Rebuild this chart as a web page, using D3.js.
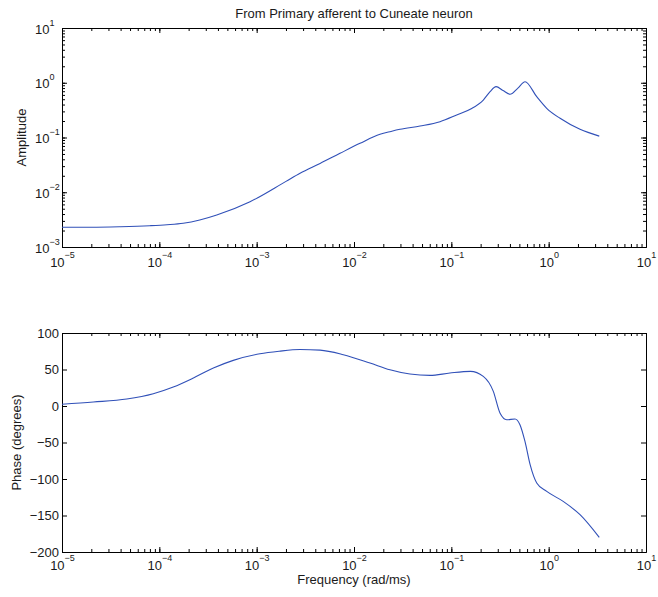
<!DOCTYPE html>
<html lang="en">
<head>
<meta charset="UTF-8">
<title>From Primary afferent to Cuneate neuron</title>
<script src="https://cdn.jsdelivr.net/npm/d3@7"></script>
<style>
  body { margin: 0; background: #fff; }
  text { font-family: "Liberation Sans", Arial, sans-serif; fill: #1a1a1a; }
  .axis path, .axis line { stroke: #000; }
</style>
</head>
<body>
<div id="chart"></div>
<script>
// Bode data (frequency in rad/ms)
const ampFreq = [1e-5, 2e-5, 4e-5, 8e-5, 1.2e-4, 1.76e-4, 2.6e-4, 3.89e-4, 8.55e-4, 2e-3, 2.79e-3, 4.48e-3, 7.18e-3, 1.153e-2, 1.85e-2, 2.4e-2, 2.97e-2, 4.77e-2, 7.66e-2, 0.1135, 0.16, 0.213, 0.25, 0.288, 0.34, 0.401, 0.48, 0.572, 0.754, 0.955, 1.31, 2.1, 3.31];
const ampValues = [0.0023, 0.0023, 0.00235, 0.00245, 0.00255, 0.00271, 0.00311, 0.00384, 0.00671, 0.0158, 0.0222, 0.0335, 0.0514, 0.0783, 0.1143, 0.129, 0.141, 0.162, 0.1945, 0.2576, 0.335, 0.484, 0.687, 0.848, 0.72, 0.615, 0.79, 1.045, 0.556, 0.341, 0.224, 0.141, 0.106];

const phaseFreq = [1e-5, 2.1e-5, 4.63e-5, 8.67e-5, 1.39e-4, 2.24e-4, 3.59e-4, 5.75e-4, 1.08e-3, 1.7e-3, 2.79e-3, 4.48e-3, 7.76e-3, 1.46e-2, 2.34e-2, 3.76e-2, 6.04e-2, 9.68e-2, 0.157, 0.213, 0.27, 0.316, 0.371, 0.451, 0.507, 0.571, 0.645, 0.754, 0.955, 1.41, 2.1, 3.31];
const phaseValues = [2.5, 5.5, 9.6, 16.8, 26, 38.4, 52, 62.5, 71.5, 75, 77.3, 76.5, 70.3, 58.9, 49.7, 43.8, 41.9, 45.2, 47.4, 40.5, 20, -9.6, -18.8, -17.8, -25.6, -48.5, -80.4, -105.5, -117, -130.7, -148.9, -180];

const xDecades = [-5, -4, -3, -2, -1, 0, 1];
const ampDecades = [-3, -2, -1, 0, 1];
const phaseTicks = [-200, -150, -100, -50, 0, 50, 100];

const title = 'From Primary afferent to Cuneate neuron';
const lineColor = '#3050b8';

// layout
const left = 62, right = 646;
const top1 = 28, bot1 = 247;
const top2 = 333, bot2 = 552;

const svg = d3.select('#chart')
    .append('svg')
    .attr('width', 658)
    .attr('height', 597);

const x = d3.scaleLog().domain([1e-5, 1e1]).range([left, right]);
const yAmp = d3.scaleLog().domain([1e-3, 1e1]).range([bot1, top1]);
const yPh = d3.scaleLinear().domain([-200, 100]).range([bot2, top2]);

const minus = v => String(v).replace('-', '\u2212');
const curve = d3.curveMonotoneX;

// ticks on all four sides, pointing inward
function xTicks(yTop, yBot) {
    const minor = x.ticks();
    const major = xDecades.map(e => Math.pow(10, e));
    svg.append('g').attr('class', 'axis').attr('transform', `translate(0,${yBot})`)
        .call(d3.axisBottom(x).tickValues(minor).tickSize(-3).tickSizeOuter(0).tickFormat(''));
    svg.append('g').attr('class', 'axis').attr('transform', `translate(0,${yBot})`)
        .call(d3.axisBottom(x).tickValues(major).tickSize(-5).tickSizeOuter(0).tickFormat(''));
    svg.append('g').attr('class', 'axis').attr('transform', `translate(0,${yTop})`)
        .call(d3.axisTop(x).tickValues(minor).tickSize(-3).tickSizeOuter(0).tickFormat(''));
    svg.append('g').attr('class', 'axis').attr('transform', `translate(0,${yTop})`)
        .call(d3.axisTop(x).tickValues(major).tickSize(-5).tickSizeOuter(0).tickFormat(''));
}

function xLabels(baseline) {
    const t = svg.append('g').selectAll('text')
        .data(xDecades)
        .join('text')
        .attr('x', d => x(Math.pow(10, d)) + 0.5)
        .attr('y', baseline)
        .attr('text-anchor', 'middle')
        .style('font-size', '13px');
    t.append('tspan').text('10');
    t.append('tspan').attr('dy', -9).style('font-size', '9px').text(d => minus(d));
}

// ---- top panel: amplitude ----
xTicks(top1, bot1);
const ampMinor = yAmp.ticks();
const ampMajor = ampDecades.map(e => Math.pow(10, e));
svg.append('g').attr('class', 'axis').attr('transform', `translate(${left},0)`)
    .call(d3.axisLeft(yAmp).tickValues(ampMinor).tickSize(-3).tickSizeOuter(0).tickFormat(''));
svg.append('g').attr('class', 'axis').attr('transform', `translate(${left},0)`)
    .call(d3.axisLeft(yAmp).tickValues(ampMajor).tickSize(-5).tickSizeOuter(0).tickFormat(''));
svg.append('g').attr('class', 'axis').attr('transform', `translate(${right},0)`)
    .call(d3.axisRight(yAmp).tickValues(ampMinor).tickSize(-3).tickSizeOuter(0).tickFormat(''));
svg.append('g').attr('class', 'axis').attr('transform', `translate(${right},0)`)
    .call(d3.axisRight(yAmp).tickValues(ampMajor).tickSize(-5).tickSizeOuter(0).tickFormat(''));

xLabels(267);

const yl = svg.append('g').selectAll('text')
    .data(ampDecades)
    .join('text')
    .attr('x', 35)
    .attr('y', d => yAmp(Math.pow(10, d)) + 5.5)
    .style('font-size', '13px');
yl.append('tspan').text('10');
yl.append('tspan').attr('dy', -8).style('font-size', '9px').text(d => minus(d));

svg.append('path')
    .datum(d3.zip(ampFreq, ampValues))
    .attr('fill', 'none')
    .attr('stroke', lineColor)
    .attr('stroke-width', 1.1)
    .attr('d', d3.line().x(d => x(d[0])).y(d => yAmp(d[1])).curve(curve));

svg.append('text')
    .attr('x', (left + right) / 2).attr('y', 18)
    .attr('text-anchor', 'middle')
    .style('font-size', '13px')
    .text(title);

svg.append('text')
    .attr('transform', `translate(26,${(top1 + bot1) / 2}) rotate(-90)`)
    .attr('text-anchor', 'middle')
    .style('font-size', '13px')
    .text('Amplitude');

// ---- bottom panel: phase ----
xTicks(top2, bot2);
svg.append('g').attr('class', 'axis').attr('transform', `translate(${left},0)`)
    .call(d3.axisLeft(yPh).tickValues(phaseTicks).tickSize(-5).tickSizeOuter(0).tickFormat(''));
svg.append('g').attr('class', 'axis').attr('transform', `translate(${right},0)`)
    .call(d3.axisRight(yPh).tickValues(phaseTicks).tickSize(-5).tickSizeOuter(0).tickFormat(''));

xLabels(570);

svg.append('g').selectAll('text')
    .data(phaseTicks)
    .join('text')
    .attr('x', 59)
    .attr('y', d => yPh(d) + 4.5)
    .attr('text-anchor', 'end')
    .style('font-size', '13px')
    .text(d => minus(d));

svg.append('path')
    .datum(d3.zip(phaseFreq, phaseValues))
    .attr('fill', 'none')
    .attr('stroke', lineColor)
    .attr('stroke-width', 1.1)
    .attr('d', d3.line().x(d => x(d[0])).y(d => yPh(d[1])).curve(curve));

svg.append('text')
    .attr('transform', `translate(21,${(top2 + bot2) / 2}) rotate(-90)`)
    .attr('text-anchor', 'middle')
    .style('font-size', '13px')
    .text('Phase (degrees)');

svg.append('text')
    .attr('x', (left + right) / 2).attr('y', 584)
    .attr('text-anchor', 'middle')
    .style('font-size', '13px')
    .text('Frequency (rad/ms)');
</script>
</body>
</html>
